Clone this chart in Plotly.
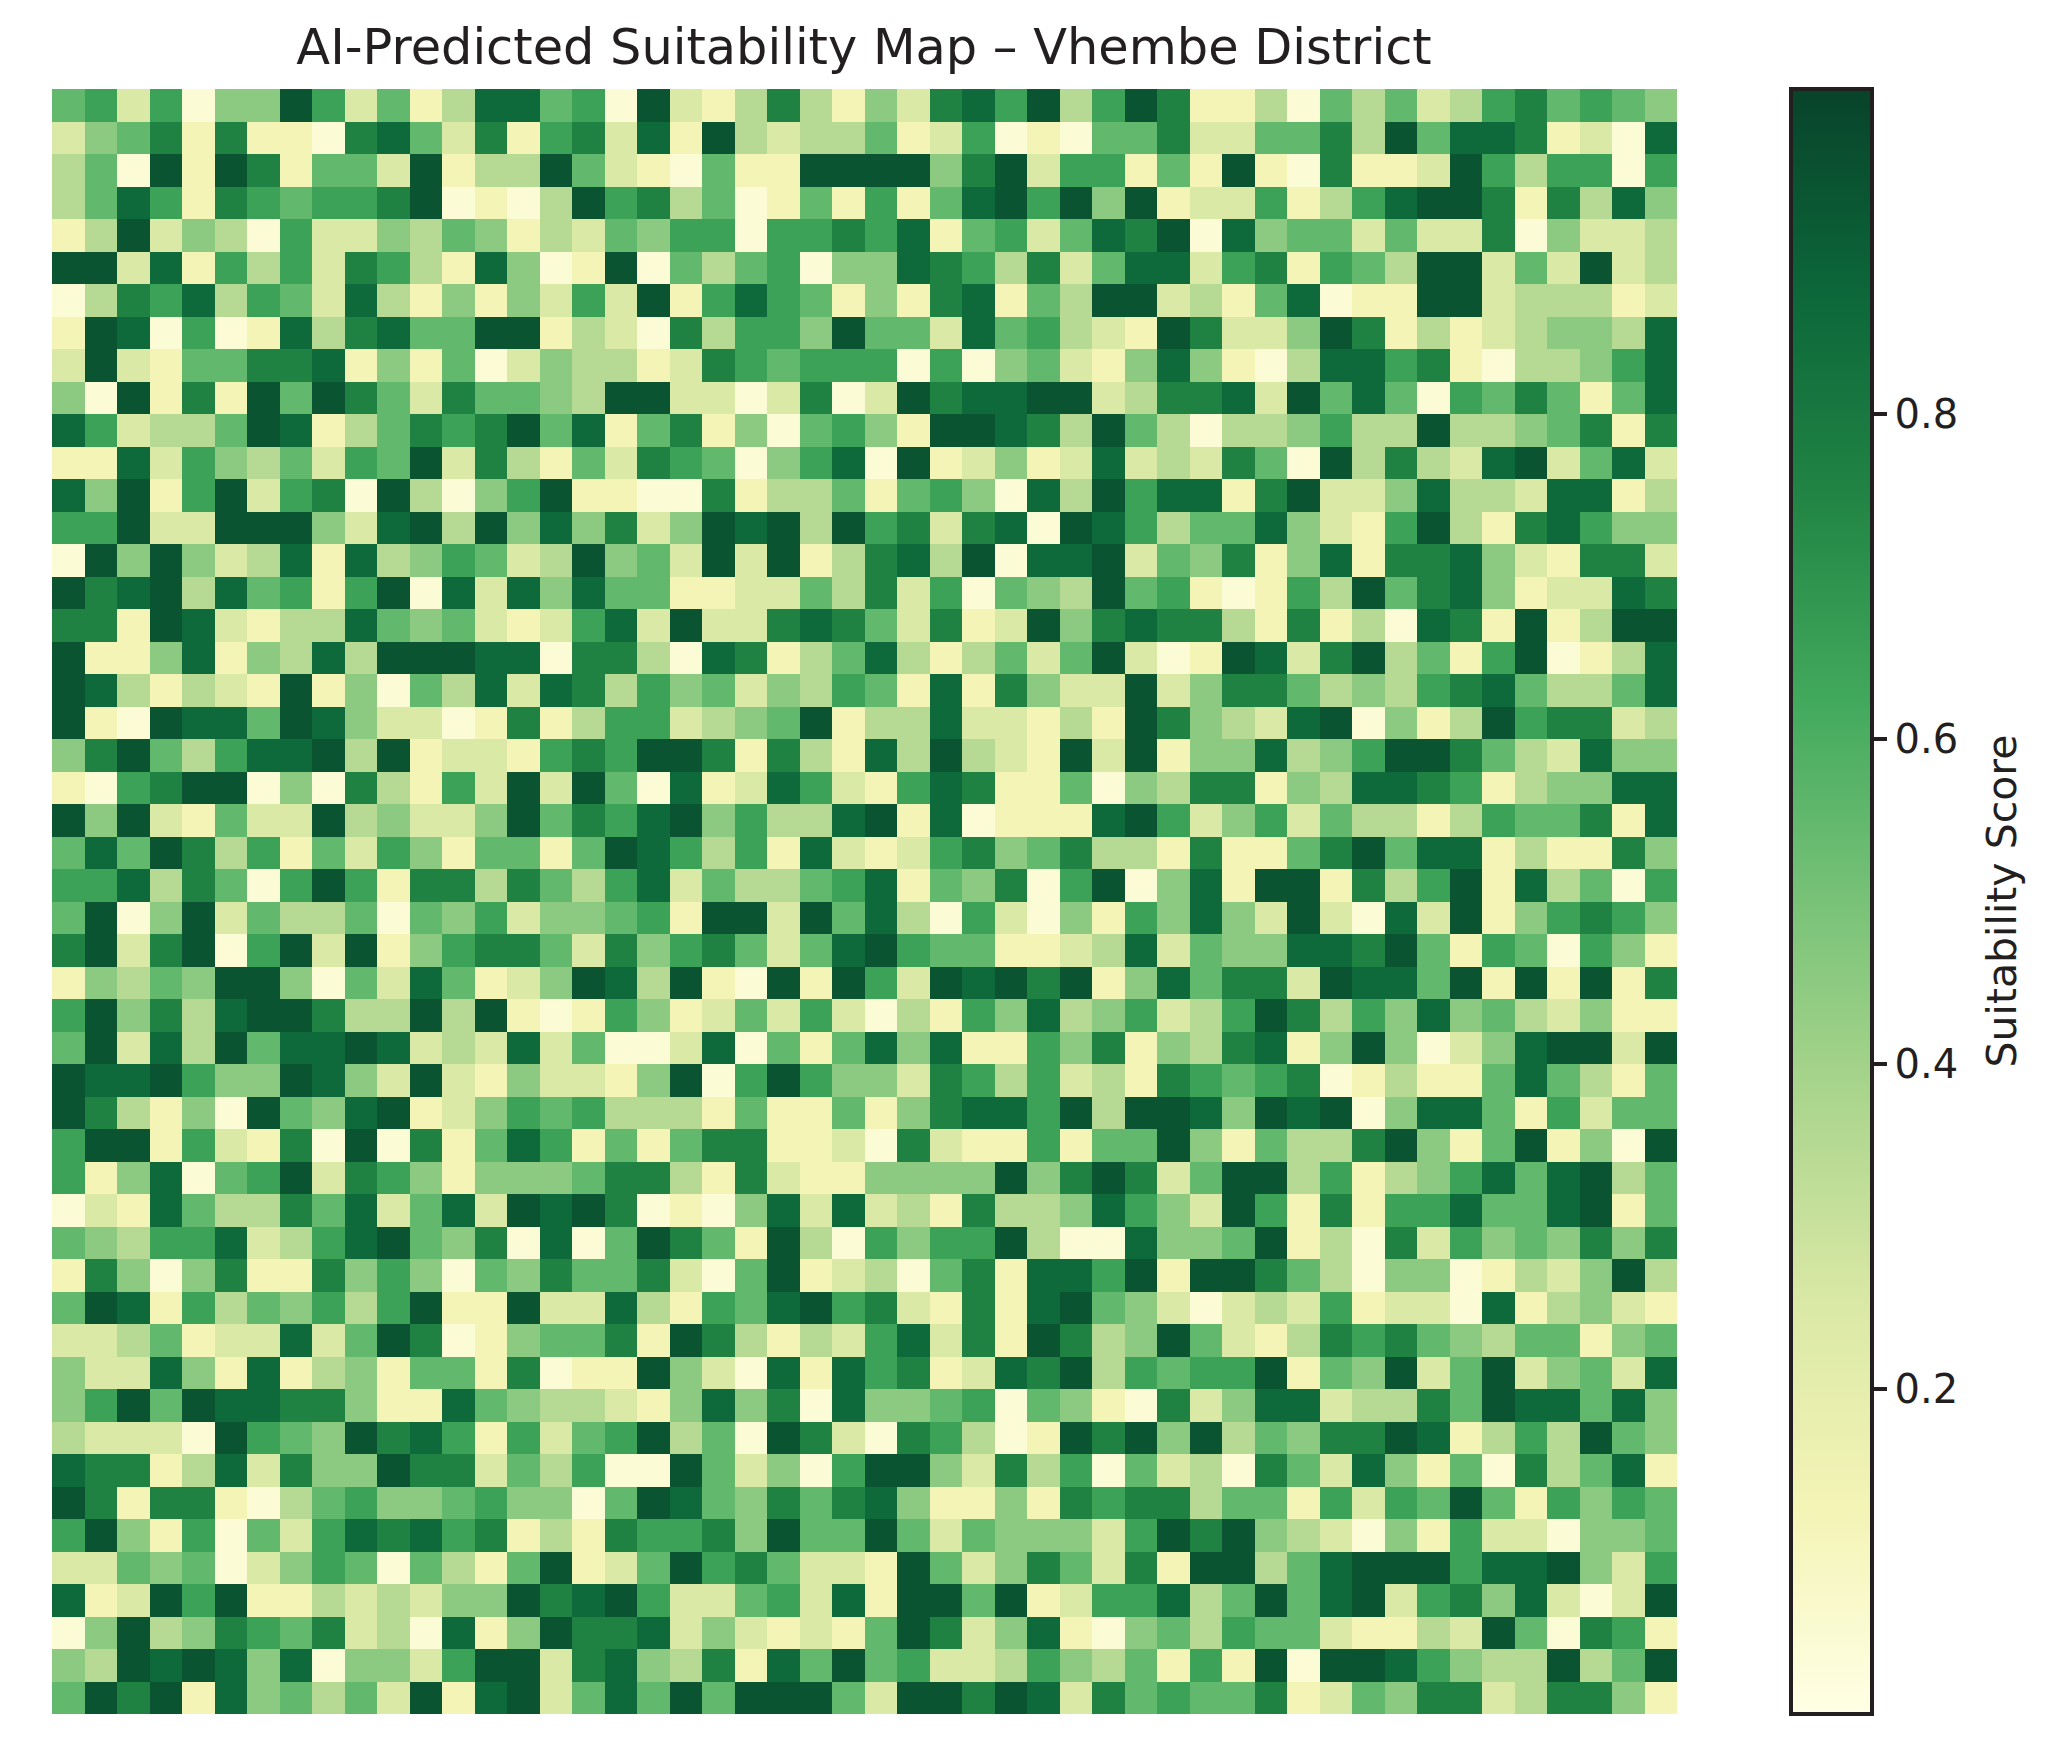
import plotly.graph_objects as go

TITLE = "AI-Predicted Suitability Map – Vhembe District"
COLORBAR_TITLE = "Suitability Score"
TICK_VALUES = [0.2, 0.4, 0.6, 0.8]
YLGN = [[0.0, "#ffffe5"], [0.125, "#f4f4b7"], [0.25, "#dbe9a6"], [0.375, "#add68e"],
        [0.5, "#78c278"], [0.625, "#41a95c"], [0.75, "#218444"], [0.875, "#0c673a"], [1.0, "#08432a"]]

# Score that each digit stands for in the rows below.
LEVEL_SCORES = [0.04, 0.13, 0.25, 0.35, 0.45, 0.55, 0.65, 0.76, 0.86, 0.94]

# One digit per cell, left to right.
rows_00_to_16 = [
    "56260449625138856" "09213731427869369" "7113053523675654",
    "24571711078527167" "28193233512601055" "7225573958871208",
    "35091971552913395" "21051199994792661" "5191071129636606",
    "35861765667901039" "67350151615896949" "1226136899717384",
    "13924306224354132" "54660667681562587" "9084552522704223",
    "99281636276318401" "90535604487637258" "8267165399252923",
    "03768365283141426" "29168651417815399" "2315801199233312",
    "19806018378559913" "20736649552856321" "9722497131234438",
    "29215577814150243" "31276566606045214" "8410388671033468",
    "40917195975275543" "99220270297889923" "7782958506575158",
    "86233598135767958" "15714056419987395" "3033463393345717",
    "11826435265927315" "27650468091241282" "3275093732892582",
    "84916926709304691" "10071335156408396" "8817922483328813",
    "66922999428939484" "72498939672780986" "3558421693178644",
    "09494238183465239" "45292913783908892" "5471481778421772",
    "97893856169082848" "55112253726054395" "6101639578412287",
    "77198213385452126" "82922787527129478" "7731713087191399",
]
rows_17_to_33 = [
    "91148143839998807" "73087135831352592" "0198279351690138",
    "98313219140538287" "36452436518174229" "2477534367853358",
    "91098859842201713" "66234591338221319" "7432890413967723",
    "47953688939122167" "69971731839321929" "1448346997532844",
    "10679904073162929" "50812862168711504" "3771438876134488",
    "94921522934224957" "68946338918011189" "6246253313655718",
    "58597361526415515" "98636182126745733" "1711579588131174",
    "66837506961773753" "68253356815470690" "4819917369183506",
    "59049253350546244" "56199295830620416" "4842920829146764",
    "79279069291467752" "74675258965511238" "2544887951650641",
    "14354994052851249" "83910919629897914" "8577298859191917",
    "69473899733939101" "64125262031648346" "2369736484532411",
    "59283958898232825" "00280515848116471" "4378149402489929",
    "98896449842921422" "14906964427636231" "7656701311585315",
    "97314095489124656" "33315115147886939" "9849890488516255",
    "69916217090715861" "51577112072116155" "9415337941591409",
    "61480569276414445" "77317211444494797" "2599361346858935",
]
rows_34_to_49 = [
    "02185337582582989" "70104828231733486" "4296171668558915",
    "54366823689547080" "59751930646693008" "4459130726454747",
    "17404711746405475" "57205912305718869" "1997530440132493",
    "59816354636911922" "83165896721718954" "2023261220813421",
    "22351228259701455" "71973132682719734" "9521376754355145",
    "42284181341551701" "19420818671287936" "5669154925924528",
    "46959887741185433" "21484708445605410" "7248823375988584",
    "32220965497861625" "69350972076301979" "4935477981363954",
    "87713827449772536" "00952406994273605" "2307528415073581",
    "97177103564456440" "59854757841141767" "7355162659516465",
    "69416052687867131" "76674955952544426" "9794320416220445",
    "22545024650531591" "25967522195247527" "1993589996889426",
    "81296911323244978" "96225628199591266" "8359589267482029",
    "04934765723081497" "78242121597248104" "5365521132950761",
    "43989848044269927" "84371859562236435" "1619099864339359",
    "59791845352918925" "85959995299798275" "6557125477237741",
]

rows = rows_00_to_16 + rows_17_to_33 + rows_34_to_49
assert len(rows) == 50 and all(len(r) == 50 for r in rows)
scores = [[LEVEL_SCORES[int(c)] for c in r] for r in rows]

INK = "#231f20"
FONT = "DejaVu Sans"

fig = go.Figure(go.Heatmap(
    z=scores,
    colorscale=YLGN,
    zmin=0.0,
    zmax=1.0,
    xgap=0, ygap=0,
    colorbar=dict(
        tickmode="array", tickvals=TICK_VALUES, tickformat=".1f", tickprefix="\u2009",
        tickfont=dict(family=FONT, size=40, color=INK),
        ticks="outside", ticklen=13, tickwidth=4, tickcolor=INK,
        outlinewidth=4, outlinecolor=INK,
        thicknessmode="pixels", thickness=81,
        lenmode="fraction", len=1.0,
        xref="paper", x=1.0702, xanchor="left", xpad=0,
        yref="paper", y=0.5, yanchor="middle", ypad=0,
    ),
))
fig.update_layout(
    width=2054, height=1755,
    paper_bgcolor="white", plot_bgcolor="white",
    margin=dict(l=44, r=385, t=81, b=49, autoexpand=False),
    title=dict(text=TITLE, x=856/2054, xref="container", xanchor="center",
               y=1 - 39/1755, yanchor="middle",
               font=dict(family=FONT, size=49.4, color=INK)),
    xaxis=dict(visible=False, range=[-0.5, 49.5], constrain="domain"),
    yaxis=dict(visible=False, range=[49.5, -0.5]),
    annotations=[dict(
        text=COLORBAR_TITLE, textangle=-90, showarrow=False,
        xref="paper", yref="paper", x=1.1997, y=0.5003,
        xanchor="center", yanchor="middle",
        font=dict(family=FONT, size=41, color=INK),
    )],
)
fig.write_html("out.html")
